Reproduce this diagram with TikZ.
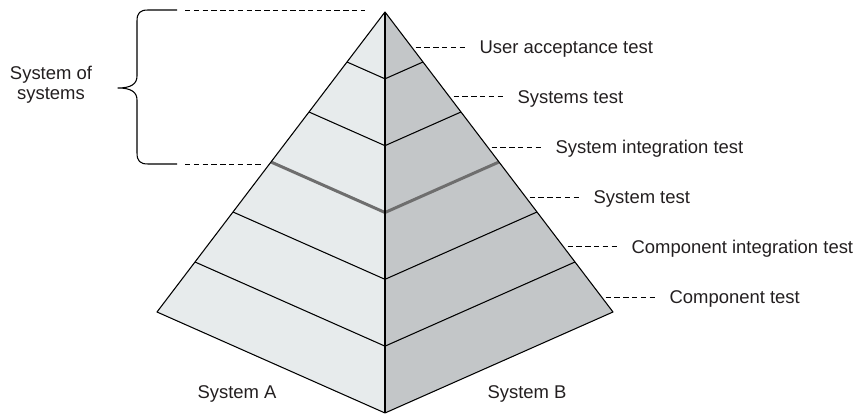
\documentclass[tikz,border=0pt]{standalone}
\usepackage{fontspec}
\setmainfont{Liberation Sans}
\usetikzlibrary{calc}
\definecolor{faceleft}{HTML}{E7EBEC}
\definecolor{faceright}{HTML}{C3C6C8}
\definecolor{boundgray}{HTML}{6E6E6E}
\definecolor{textdark}{HTML}{231F20}
\tikzset{
  edge/.style={draw=black, line width=0.6pt, line join=round},
  bound/.style={draw=boundgray, line width=1.7pt, line join=miter},
  leader/.style={draw=black, line width=0.55pt, dash pattern=on 3.1pt off 1.9pt},
  levelname/.style={
    anchor=west, inner xsep=2.4mm, inner ysep=0pt, outer sep=0pt,
    text height=7.5pt, text depth=0pt,
    font=\fontsize{10.5}{12}\selectfont, text=textdark
  },
  sidename/.style={
    inner sep=0pt, align=center,
    font=\fontsize{10.5}{11.3}\selectfont, text=textdark
  }
}
% one V-shaped layer boundary, #1 = level (1..5)
\newcommand{\layerline}[2]{
  \draw[#2] ($(apex)!#1/6!(lc)$) -- ($(apex)!#1/6!(base)$) -- ($(apex)!#1/6!(rc)$);
}
% test level label with a dashed leader from the right edge
\newcommand{\testlevel}[3]{
  \coordinate (#2-edge) at ($(apex)!#1!(rc)+(4,0)$);
  \node[levelname] (#2) at ($(#2-edge)+(52,0)$) {#3};
  \draw[leader] (#2-edge) -- (#2.west);
}

\begin{document}
\begin{tikzpicture}[x=0.2mm, y=-0.2mm]
\useasboundingbox (0,0) rectangle (857,414);
\coordinate (apex) at (385,12);
\coordinate (lc) at (157,312);
\coordinate (rc) at (613,312);
\coordinate (base) at (385,413);
% faces
\fill[faceleft] (apex) -- (lc) -- (base) -- cycle;
\fill[faceright] (apex) -- (rc) -- (base) -- cycle;
% layers
\layerline{1}{edge}
\layerline{2}{edge}
\layerline{3}{bound}
\layerline{4}{edge}
\layerline{5}{edge}
\draw[edge] (apex) -- (lc) -- (base) -- (rc) -- cycle;
\draw[edge] (apex) -- (base);
% labels on the right
\testlevel{0.1167}{uat}{User acceptance test}
\testlevel{0.2833}{syst}{Systems test}
\testlevel{0.45}{sit}{System integration test}
\testlevel{0.6167}{st}{System test}
\testlevel{0.7833}{cit}{Component integration test}
\testlevel{0.95}{ct}{Component test}
% system of systems brace
\coordinate (bt) at (177,10);
\coordinate (bb) at (177,164);
\coordinate (tip) at (118,88);
\draw[edge] (bt) -- (148,10) .. controls (140,10) and (137,13) .. (137,21) -- (137,76)
  .. controls (137,84) and (131,88) .. (tip) .. controls (131,88) and (137,92) .. (137,100)
  -- (137,153) .. controls (137,161) and (140,164) .. (148,164) -- (bb);
\coordinate (sosa) at (185,10);
\coordinate (sosb) at (365,10);
\coordinate (sosc) at (185,164);
\coordinate (sosd) at (262,164);
\draw[leader] (sosa) -- (sosb);
\draw[leader] (sosc) -- (sosd);
\node[sidename] (sos) at (51,85) {System of\\systems};
% systems under the pyramid
\node[levelname, anchor=center, inner xsep=0pt] (sysa) at (237,392) {System A};
\node[levelname, anchor=center, inner xsep=0pt] (sysb) at (527,392) {System B};
\end{tikzpicture}
\end{document}
